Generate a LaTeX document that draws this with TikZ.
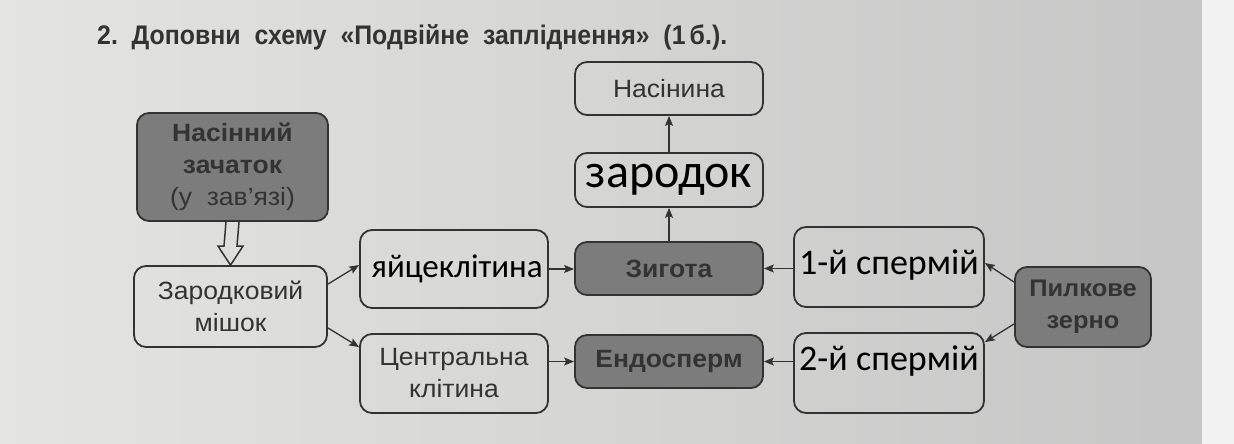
\documentclass[tikz,border=0pt]{standalone}
\usepackage{fontspec}
\setmainfont{Liberation Sans}
\newfontfamily\pf{Liberation Sans}[FakeStretch=1.06]
\newfontfamily\hw{Carlito}
\usetikzlibrary{arrows.meta,calc}
\definecolor{ink}{HTML}{333333}
\definecolor{darkfill}{HTML}{7C7C7C}
\definecolor{pageL}{HTML}{E4E4E2}
\definecolor{pageM}{HTML}{DCDCDA}
\definecolor{pageR}{HTML}{C6C6C6}
\definecolor{strip}{HTML}{F2F2F2}
\begin{document}
\begin{tikzpicture}[x=1pt,y=-1pt,
  box/.style={draw=ink,line width=1.8pt,rounded corners=12pt,inner sep=0pt,
    align=center,text=ink,font=\pf\fontsize{25}{32}\selectfont},
  darkbox/.style={box,fill=darkfill,font=\pf\bfseries\fontsize{25}{32}\selectfont},
  hand/.style={inner sep=0pt,text=black,font=\hw\fontsize{36}{40}\selectfont},
  arr/.style={draw=ink,line width=1.3pt,-{Stealth[length=10pt,width=8pt,inset=2pt]}},
  hollow/.style={draw=ink,line width=1.5pt,line join=miter,fill=none}
]
\useasboundingbox (0,0) rectangle (1234,444);
\shade[left color=pageL,middle color=pageM,right color=pageR] (0,0) rectangle (1202,444);
\fill[strip] (1202,0) rectangle (1234,444);

\node[anchor=base west,inner sep=0pt,text=ink] (title) at (97,45)
  {\resizebox{630pt}{20pt}{\fontsize{28}{30}\selectfont\bfseries 2.\ \ Доповни\ \ схему\ \ «Подвійне\ \ запліднення»\ \ (1\,б.).}};

% boxes
\node[box,minimum width=188pt,minimum height=53pt] (nas) at (669,88.5) {Насінина};
\node[box,minimum width=188pt,minimum height=54pt,font=\hw\fontsize{48}{50}\selectfont,text=black] (zar) at (669,180) {зародок};
\node[darkbox,minimum width=188pt,minimum height=53pt] (zyg) at (669,268.5) {Зигота};
\node[darkbox,minimum width=188pt,minimum height=53pt] (end) at (669,361.5) {Ендосперм};
\node[darkbox,minimum width=191pt,minimum height=108pt] (nz) at (232.5,167)
  {\textbf{Насінний}\\\textbf{зачаток}\\\textmd{(у\ \ зав’язі)}};
\node[box,minimum width=193pt,minimum height=81pt] (zm) at (230.5,306.5) {Зародковий\\мішок};
\node[box,minimum width=188pt,minimum height=78pt] (yai) at (454,269) {};
\node[hand,font=\hw\fontsize{33}{36}\selectfont] (yait) at ($(yai.center)+(3,0)$) {яйцеклітина};
\node[box,minimum width=188pt,minimum height=79pt] (cen) at (454,373.5) {Центральна\\клітина};
\node[box,minimum width=190pt,minimum height=80pt] (s1) at (889,267) {};
\node[hand] (s1t) at ($(s1.center)+(0,-2)$) {1-й спермій};
\node[box,minimum width=190pt,minimum height=80pt] (s2) at (889,373) {};
\node[hand] (s2t) at ($(s2.center)+(0,-12)$) {2-й спермій};
\node[darkbox,minimum width=136pt,minimum height=80pt,font=\pf\bfseries\fontsize{24}{32}\selectfont] (pz) at (1083,307) {Пилкове\\зерно};

% hollow arrow
\draw[hollow] ($(nz.south)+(-6.5,0)$) -- ($(zm.north)+(-6.5,-19)$) -- ($(zm.north)+(-12.5,-19)$)
  -- (zm.north) -- ($(zm.north)+(12.5,-19)$) -- ($(zm.north)+(6.5,-19)$) -- ($(nz.south)+(6.5,0)$);

% arrows
\draw[arr] ($(zm.north east)+(0,19)$) -- ($(yai.west)+(0,-4)$);
\draw[arr] ($(zm.south east)+(0,-20)$) -- ($(cen.north west)+(0,14)$);
\draw[arr] (yai.east) -- (yai.east -| zyg.west);
\draw[arr] (cen.east |- end.west) -- (end.west);
\draw[arr] (s1.west |- zyg.east) -- (zyg.east);
\draw[arr] (s2.west |- end.east) -- (end.east);
\draw[arr] (zyg.north) -- (zar.south);
\draw[arr] (zar.north) -- (nas.south);
\draw[arr] ($(pz.north west)+(0,16)$) -- ($(s1.east)+(0,-4)$);
\draw[arr] ($(pz.south west)+(0,-24)$) -- ($(s2.north east)+(0,10)$);
\end{tikzpicture}
\end{document}
